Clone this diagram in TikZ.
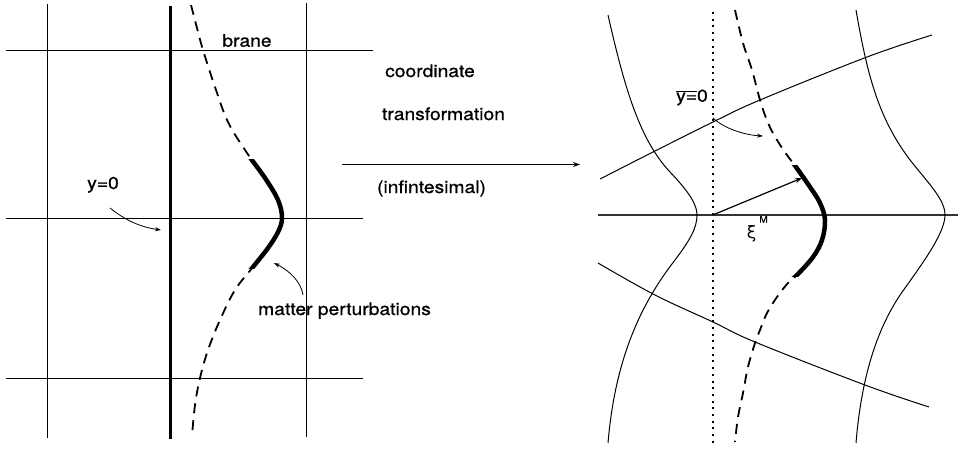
\documentclass[tikz,border=0pt]{standalone}
\usepackage{fontspec}
\setmainfont{TeX Gyre Heros}[FakeStretch=1.12,FakeBold=0.8]
\newfontfamily\greekfont{DejaVu Sans}
\usetikzlibrary{arrows.meta}
\begin{document}
\begin{tikzpicture}[x=1pt,y=-1pt,
  gridline/.style={line width=1pt},
  thickline/.style={line width=3pt},
  braneline/.style={line width=1.8pt, dash pattern=on 10pt off 7pt},
  braneheavy/.style={line width=4.5pt},
  dotline/.style={line width=2pt, dash pattern=on 2pt off 4.7pt},
  ptr/.style={line width=0.8pt, -{Stealth[length=6pt,width=4pt]}},
  lbl/.style={font=\fontsize{17.2}{20}\selectfont, inner sep=0pt},
  every node/.style={inner sep=0pt}]
\useasboundingbox (0,0) rectangle (958,451);

% ---------- left panel ----------
\draw[gridline] (47.7,4) -- (47.7,438);
\draw[gridline] (306,3) -- (306,437);
\draw[thickline] (170,6) -- (170,439);
\draw[gridline] (6,50) -- (373,50);
\draw[gridline] (6,218) -- (363,218);
\draw[gridline] (6,378) -- (363,378);

\draw[braneline] plot[smooth,tension=0.6] coordinates {(191,5) (197,28) (203,50) (215,87) (228,122) (247,153) (265,178) (278,200) (282,218) (278,232) (268,248) (253,267) (235,290) (220,320) (208,350) (200,378) (195,405) (192,436)};
\begin{scope}
\clip (150,159) rectangle (320,268);
\draw[braneheavy] plot[smooth,tension=0.6] coordinates {(191,5) (197,28) (203,50) (215,87) (228,122) (247,153) (265,178) (278,200) (282,218) (278,232) (268,248) (253,267) (235,290) (220,320) (208,350) (200,378) (195,405) (192,436)};
\end{scope}

\node[lbl, anchor=base] (brane) at (247,46.7) {brane};
\node[lbl, anchor=base] (y0) at (103,189) {y=0};
\coordinate (y0s) at (110,208);
\coordinate (y0e) at (161,230);
\draw[ptr] (y0s) .. controls (125,220) and (140,227) .. (y0e);
\node[lbl, anchor=base west] (matter) at (258,315) {matter perturbations};
\coordinate (ms) at (303,295);
\coordinate (me) at (274,263);
\draw[ptr] (ms) .. controls (301,282) and (290,271) .. (me);

% ---------- middle ----------
\node[lbl, anchor=base] (coord) at (430,77) {coordinate};
\node[lbl, anchor=base] (trans) at (443.5,120) {transformation};
\node[lbl, anchor=base] (infin) at (431.5,193) {(infintesimal)};
\coordinate (ts) at (342,164.5);
\coordinate (te) at (580,164.5);
\draw[line width=1.2pt, -{Stealth[length=7pt,width=5pt]}] (ts) -- (te);

% ---------- right panel ----------
\draw[line width=1.1pt, black!80] (598,215) -- (958,215);
\draw[gridline] plot[smooth,tension=0.6] coordinates {(600,179) (655,151) (713,122) (760,100) (867,57) (932,35)};
\draw[gridline] plot[smooth,tension=0.6] coordinates {(598,263) (655,295) (713,322) (755,342) (865,385) (929,407)};
\draw[gridline] (608,15) .. controls (625,90) and (640,140) .. (670,172)
  .. controls (690,193) and (697,205) .. (697,215)
  .. controls (697,228) and (690,240) .. (675,260)
  .. controls (640,305) and (615,360) .. (608,443);
\draw[gridline] (856,10) .. controls (868,80) and (880,120) .. (910,160)
  .. controls (930,185) and (945,200) .. (945,215)
  .. controls (945,232) and (925,260) .. (905,288)
  .. controls (880,322) and (862,370) .. (856,443);
\draw[dotline] (712.7,12) -- (712.7,443);

\draw[braneline] plot[smooth,tension=0.6] coordinates {(735,10) (743,43) (752,70) (760,100) (768,123) (777,140) (787,155) (796,167) (810,187) (820,203) (825,220) (822,240) (813,257) (797,275) (788,283) (777,297) (767,313) (760,330) (755,343) (748,367) (743,393) (738,417) (735,442)};
\begin{scope}
\clip (700,165) rectangle (860,276);
\draw[braneheavy] plot[smooth,tension=0.6] coordinates {(735,10) (743,43) (752,70) (760,100) (768,123) (777,140) (787,155) (796,167) (810,187) (820,203) (825,220) (822,240) (813,257) (797,275) (788,283) (777,297) (767,313) (760,330) (755,343) (748,367) (743,393) (738,417) (735,442)};
\end{scope}

\coordinate (orig) at (712.7,215);
\coordinate (xitip) at (802,178);
\draw[line width=1.2pt, -{Stealth[length=7pt,width=5pt]}] (orig) -- (xitip);
\node[anchor=base, font=\greekfont\fontsize{17}{20}\selectfont] (xi) at (751.5,238) {ξ};
\node[anchor=base, font=\fontsize{9}{11}\selectfont] (M) at (763.5,222.5) {M};

\node[lbl, anchor=base] (ybar) at (692,101.7) {$\overline{\mbox{y=}}$0};
\coordinate (ybs) at (713,118);
\coordinate (ybe) at (763,136);
\draw[ptr] (ybs) .. controls (725,129) and (745,135) .. (ybe);
\end{tikzpicture}
\end{document}
